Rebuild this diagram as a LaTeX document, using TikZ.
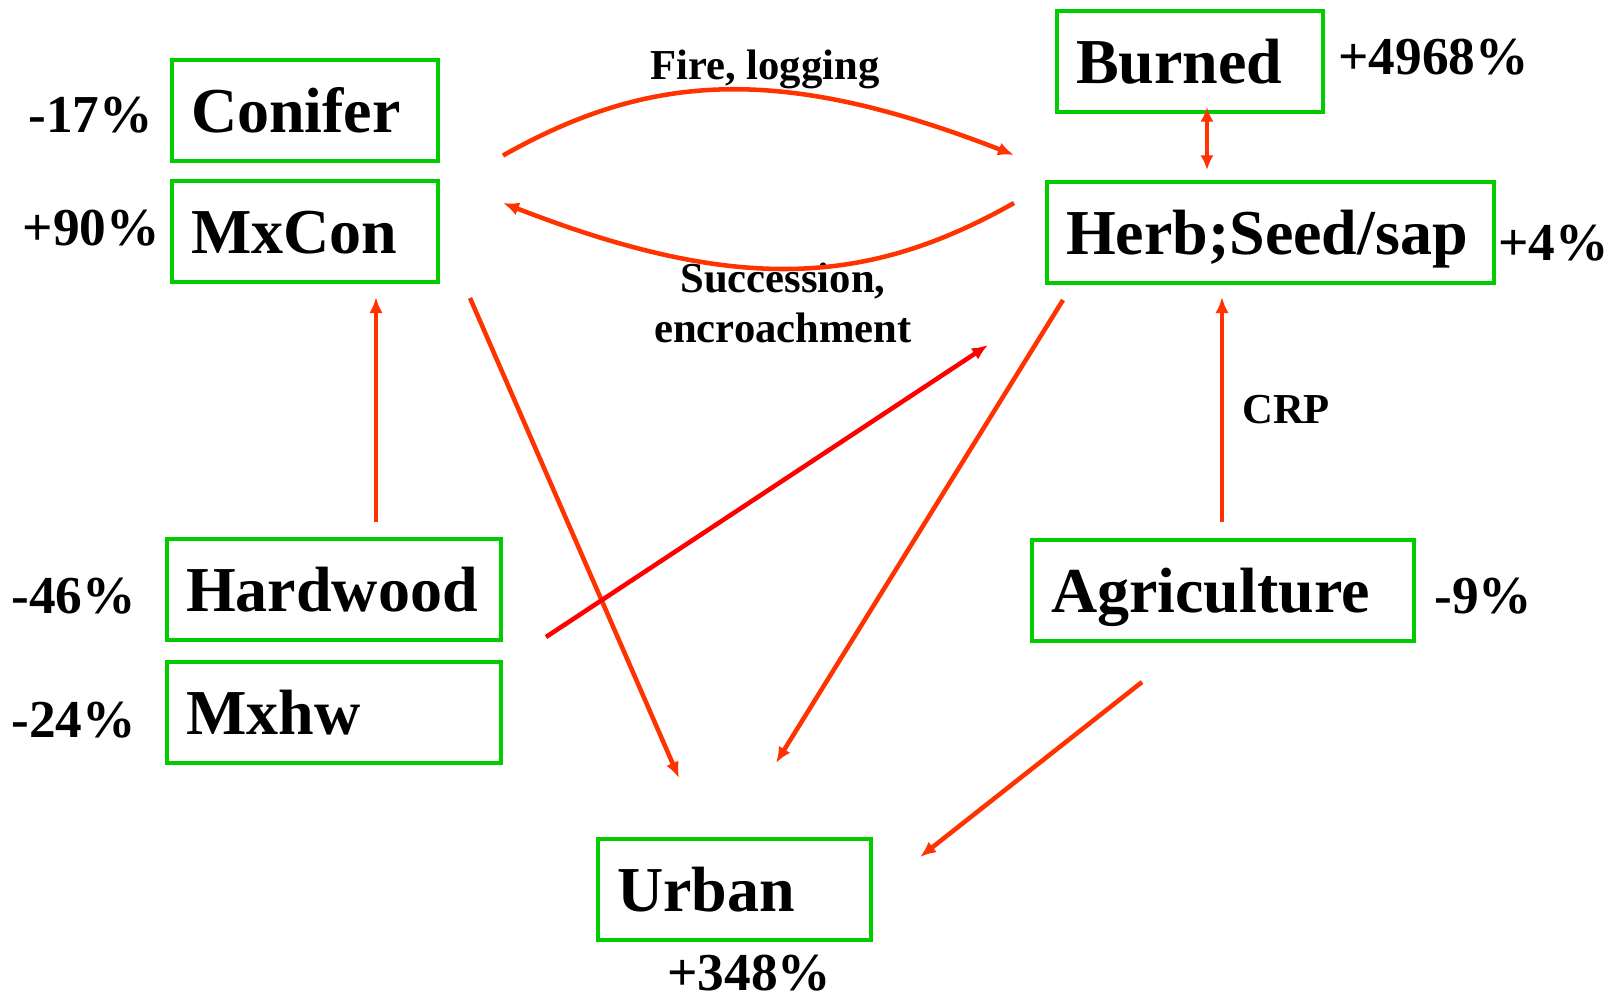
\documentclass[tikz,border=0pt]{standalone}
\usepackage{fontspec}
\setmainfont{Liberation Serif}
\usetikzlibrary{arrows.meta,calc}
\definecolor{boxgreen}{RGB}{0,204,0}
\definecolor{arrorange}{RGB}{255,51,0}
\definecolor{arrred}{RGB}{255,0,0}
\begin{document}
\begin{tikzpicture}[x=0.75pt,y=-0.75pt,
  box/.style={draw=boxgreen, line width=3.4pt, rectangle, outer sep=0pt, inner xsep=14.25pt, inner ysep=0pt, minimum height=75.75pt, text height=34pt, text depth=1pt, align=left, font=\fontsize{48}{58}\selectfont\bfseries, anchor=north west},
  pct/.style={inner sep=0pt, font=\fontsize{40}{48}\selectfont\bfseries},
  lbl/.style={inner sep=0pt, font=\fontsize{32}{37.5}\selectfont\bfseries, align=center},
  flow/.style={draw=arrorange, line width=3.4pt, -{Latex[length=12pt,width=10pt]}},
  dflow/.style={draw=arrorange, line width=2.6pt, {Latex[length=11pt,width=10pt]}-{Latex[length=11pt,width=10pt]}},
]
\useasboundingbox (0,0) rectangle (1610,1000);
\fill[white] (0,0) rectangle (1610,1000);

% boxes
\node[box, text width=171pt] (conifer) at (172,60) {Conifer};
\node[box, text width=171pt] (mxcon) at (172,181) {MxCon};
\node[box, text width=171pt] (burned) at (1057,11) {Burned};
\node[box, text width=306.75pt] (herb) at (1047,182) {Herb;Seed/sap};
\node[box, text width=222pt] (hardwood) at (167,539) {Hardwood};
\node[box, text width=222pt] (mxhw) at (167,662) {Mxhw};
\node[box, text width=258pt] (agri) at (1032,540) {Agriculture};
\node[box, text width=176.25pt] (urban) at (598,839) {Urban};

% percentages
\node[pct, anchor=base east] (pconifer) at (153,132) {-17\%};
\node[pct, anchor=base east] (pmxcon) at (160,245) {+90\%};
\node[pct, anchor=base east] (phard) at (136,613) {-46\%};
\node[pct, anchor=base east] (pmxhw) at (136,737) {-24\%};
\node[pct, anchor=base west] (pburned) at (1338,74) {+4968\%};
\node[pct, anchor=base west] (pherb) at (1498,260) {+4\%};
\node[pct, anchor=base west] (pagri) at (1434,613) {-9\%};
\node[pct, anchor=base west] (purban) at (667,990) {+348\%};

% connector labels
\node[lbl, anchor=base] (lfire) at (765,79) {Fire, logging};
\node[lbl, anchor=base] (lsucc) at (783,342) {Succession,\\encroachment};
\node[lbl, anchor=base west] (lcrp) at (1242,423) {CRP};

% connectors
\draw[flow] ($(conifer.east)+(65,45)$) .. controls +(147,-83) and +(-234,-91) .. ($(herb.west)+(-33,-77.5)$);
\draw[flow] ($(herb.west)+(-33,-29.5)$) .. controls +(-147,83) and +(234,91) .. ($(mxcon.east)+(65,-28.5)$);
\draw[dflow] ($(burned.south)+(17,-5)$) -- ($(herb.north)+(-63.5,-12)$);
\draw[flow] ($(mxcon.south east)+(32,16)$) -- ($(urban.north west)+(81,-61)$);
\draw[flow] ($(herb.south west)+(16,17)$) -- ($(urban.north)+(41.5,-76)$);
\draw[flow, draw=arrred] ($(hardwood.east)+(45,47.5)$) -- ($(herb.south west)+(-59,62)$);
\draw[flow] ($(hardwood.north)+(42,-17)$) -- ($(mxcon.south)+(71,15)$);
\draw[flow] ($(agri.north)+(-1,-18)$) -- ($(herb.south)+(-48.5,14)$);
\draw[flow] ($(agri.south)+(-81,41)$) -- ($(urban.north east)+(49,18)$);
\end{tikzpicture}
\end{document}
